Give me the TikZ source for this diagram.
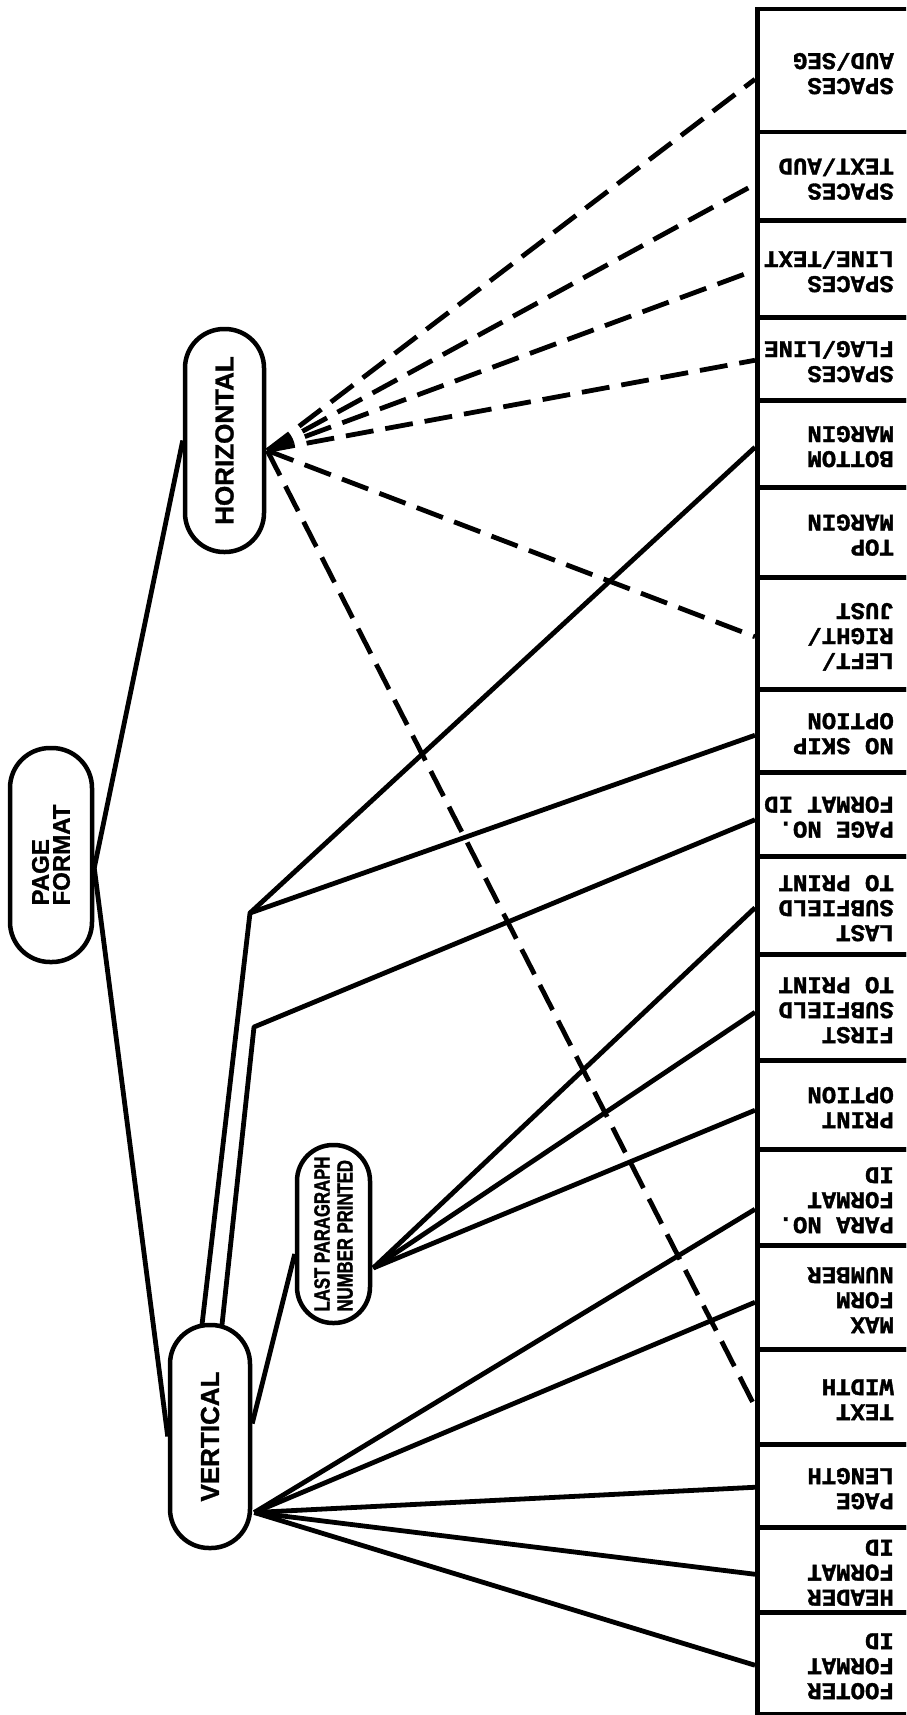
\documentclass[tikz,border=0pt]{standalone}
\usepackage{fontspec}
\usepackage{graphicx}
\usetikzlibrary{calc}
\newfontfamily\cellfont{Liberation Mono}[BoldFeatures={FakeBold=1.5}]
\newfontfamily\ovalfont{Liberation Sans}[BoldFeatures={FakeBold=1.2}]
\newfontfamily\narrowfont{Liberation Sans}[FakeStretch=0.76,BoldFeatures={FakeBold=1.5}]
\newcommand\celltab[1]{\rotatebox{180}{\begin{tabular}{@{}l@{}}#1\end{tabular}}}
\tikzset{
  oval/.style={draw, line width=4.5pt, rounded corners=39pt, inner sep=0pt,
    align=left, font=\ovalfont\bfseries\fontsize{26}{28}\selectfont},
  cell/.style={draw, line width=4.5pt, minimum width=170pt, inner sep=0pt, anchor=north west},
  ctext/.style={inner sep=0pt, anchor=east, font=\cellfont\bfseries\fontsize{24}{25}\selectfont},
  conn/.style={line width=4.8pt, line join=round},
  dconn/.style={conn, dash pattern=on 28pt off 12pt},
}
\begin{document}
\begin{tikzpicture}[x=1pt,y=-1pt]
\useasboundingbox (0,0) rectangle (906,1715);
\clip (0,0) rectangle (906,1715);
\fill[white] (0,0) rectangle (906,1715);

% right column cells
\node[cell, minimum height=123pt] (b1) at (755,7) {};
\node[cell, minimum height=88pt] (b2) at (755,130) {};
\node[cell, minimum height=97pt] (b3) at (755,218) {};
\node[cell, minimum height=83pt] (b4) at (755,315) {};
\node[cell, minimum height=87pt] (b5) at (755,398) {};
\node[cell, minimum height=90pt] (b6) at (755,485) {};
\node[cell, minimum height=112pt] (b7) at (755,575) {};
\node[cell, minimum height=83pt] (b8) at (755,687) {};
\node[cell, minimum height=84pt] (b9) at (755,770) {};
\node[cell, minimum height=98pt] (b10) at (755,854) {};
\node[cell, minimum height=106pt] (b11) at (755,952) {};
\node[cell, minimum height=89pt] (b12) at (755,1058) {};
\node[cell, minimum height=96pt] (b13) at (755,1147) {};
\node[cell, minimum height=104pt] (b14) at (755,1243) {};
\node[cell, minimum height=95pt] (b15) at (755,1347) {};
\node[cell, minimum height=83pt] (b16) at (755,1442) {};
\node[cell, minimum height=85pt] (b17) at (755,1525) {};
\node[cell, minimum height=102pt] (b18) at (755,1610) {};

% cell texts (upside down)
\node[ctext] (t1) at ($(b1.west)+(139,0)$) {\celltab{SPACES\\AUD/SEG}};
\node[ctext] (t2) at ($(b2.west)+(139,0)$) {\celltab{SPACES\\TEXT/AUD}};
\node[ctext] (t3) at ($(b3.west)+(139,0)$) {\celltab{SPACES\\LINE/TEXT}};
\node[ctext] (t4) at ($(b4.west)+(139,0)$) {\celltab{SPACES\\FLAG/LINE}};
\node[ctext] (t5) at ($(b5.west)+(139,0)$) {\celltab{BOTTOM\\MARGIN}};
\node[ctext] (t6) at ($(b6.west)+(139,0)$) {\celltab{TOP\\MARGIN}};
\node[ctext] (t7) at ($(b7.west)+(139,0)$) {\celltab{LEFT/\\RIGHT/\\JUST}};
\node[ctext] (t8) at ($(b8.west)+(139,0)$) {\celltab{NO SKIP\\OPTION}};
\node[ctext] (t9) at ($(b9.west)+(139,0)$) {\celltab{PAGE NO.\\FORMAT ID}};
\node[ctext] (t10) at ($(b10.west)+(139,0)$) {\celltab{LAST\\SUBFIELD\\TO PRINT}};
\node[ctext] (t11) at ($(b11.west)+(139,0)$) {\celltab{FIRST\\SUBFIELD\\TO PRINT}};
\node[ctext] (t12) at ($(b12.west)+(139,0)$) {\celltab{PRINT\\OPTION}};
\node[ctext] (t13) at ($(b13.west)+(139,0)$) {\celltab{PARA NO.\\FORMAT\\ID}};
\node[ctext] (t14) at ($(b14.west)+(139,0)$) {\celltab{MAX\\FORM\\NUMBER}};
\node[ctext] (t15) at ($(b15.west)+(139,0)$) {\celltab{TEXT\\WIDTH}};
\node[ctext] (t16) at ($(b16.west)+(139,0)$) {\celltab{PAGE\\LENGTH}};
\node[ctext] (t17) at ($(b17.west)+(139,0)$) {\celltab{HEADER\\FORMAT\\ID}};
\node[ctext] (t18) at ($(b18.west)+(139,0)$) {\celltab{FOOTER\\FORMAT\\ID}};

% oval nodes
\node[oval, rotate=90, minimum width=214pt, minimum height=82pt, rounded corners=40pt,
  font=\ovalfont\bfseries\fontsize{24}{21}\selectfont] (pf) at (51,855) {PAGE\\FORMAT};
\node[oval, rotate=90, minimum width=223pt, minimum height=79pt] (hz) at (224.5,440.5) {HORIZONTAL};
\node[oval, rotate=90, minimum width=223pt, minimum height=80pt] (vt) at (210,1436.5) {VERTICAL};
\node[oval, rotate=90, minimum width=178pt, minimum height=73pt, rounded corners=36pt,
  font=\narrowfont\bfseries\fontsize{22}{23}\selectfont] (lp) at (333.5,1234) {LAST PARAGRAPH\\NUMBER PRINTED};

% hub points
\coordinate (pfhub) at ($(pf.south)+(0,13)$);
\coordinate (hzhub) at ($(hz.south)+(1,10)$);
\coordinate (vthub) at ($(vt.south)+(2,76)$);
\coordinate (vtside) at ($(vt.south)+(0,-13)$);
\coordinate (vttl) at ($(vt.east)+(-8,2)$);
\coordinate (vttr) at ($(vt.east)+(12,2)$);
\coordinate (k1) at (250,913);
\coordinate (k2) at (254,1027);
\coordinate (lphub) at ($(lp.south)+(1,34)$);

% connectors
\draw[conn] (pfhub) -- (hz.north);
\draw[conn] (pfhub) -- (vt.north);

\draw[dconn] (hzhub) -- ($(b1.west)+(0,8.5)$);
\draw[dconn] (hzhub) -- ($(b2.west)+(0,8)$);
\draw[dconn] (hzhub) -- ($(b3.west)+(0,1.5)$);
\draw[dconn] (hzhub) -- ($(b4.west)+(0,1.5)$);
\draw[dconn] (hzhub) -- ($(b7.west)+(0,3.5)$);
\draw[dconn] (hzhub) -- ($(b15.west)+(0,10)$);

\draw[conn] (vttl) -- (k1) -- ($(b5.west)+(0,3.5)$);
\draw[conn] (k1) -- ($(b8.west)+(0,4.5)$);
\draw[conn] (vttr) -- (k2) -- ($(b9.west)+(0,5.5)$);

\draw[conn] (vtside) -- ($(lp.north)+(0,20)$);
\draw[conn] (lphub) -- ($(b10.west)+(0,2.5)$);
\draw[conn] (lphub) -- ($(b11.west)+(0,5)$);
\draw[conn] (lphub) -- ($(b12.west)+(0,5.5)$);

\draw[conn] (vthub) -- ($(b13.west)+(0,12)$);
\draw[conn] (vthub) -- ($(b14.west)+(0,5)$);
\draw[conn] (vthub) -- ($(b16.west)+(0,1.5)$);
\draw[conn] (vthub) -- ($(b17.west)+(0,4.5)$);
\draw[conn] (vthub) -- ($(b18.west)+(0,2)$);
\end{tikzpicture}
\end{document}
